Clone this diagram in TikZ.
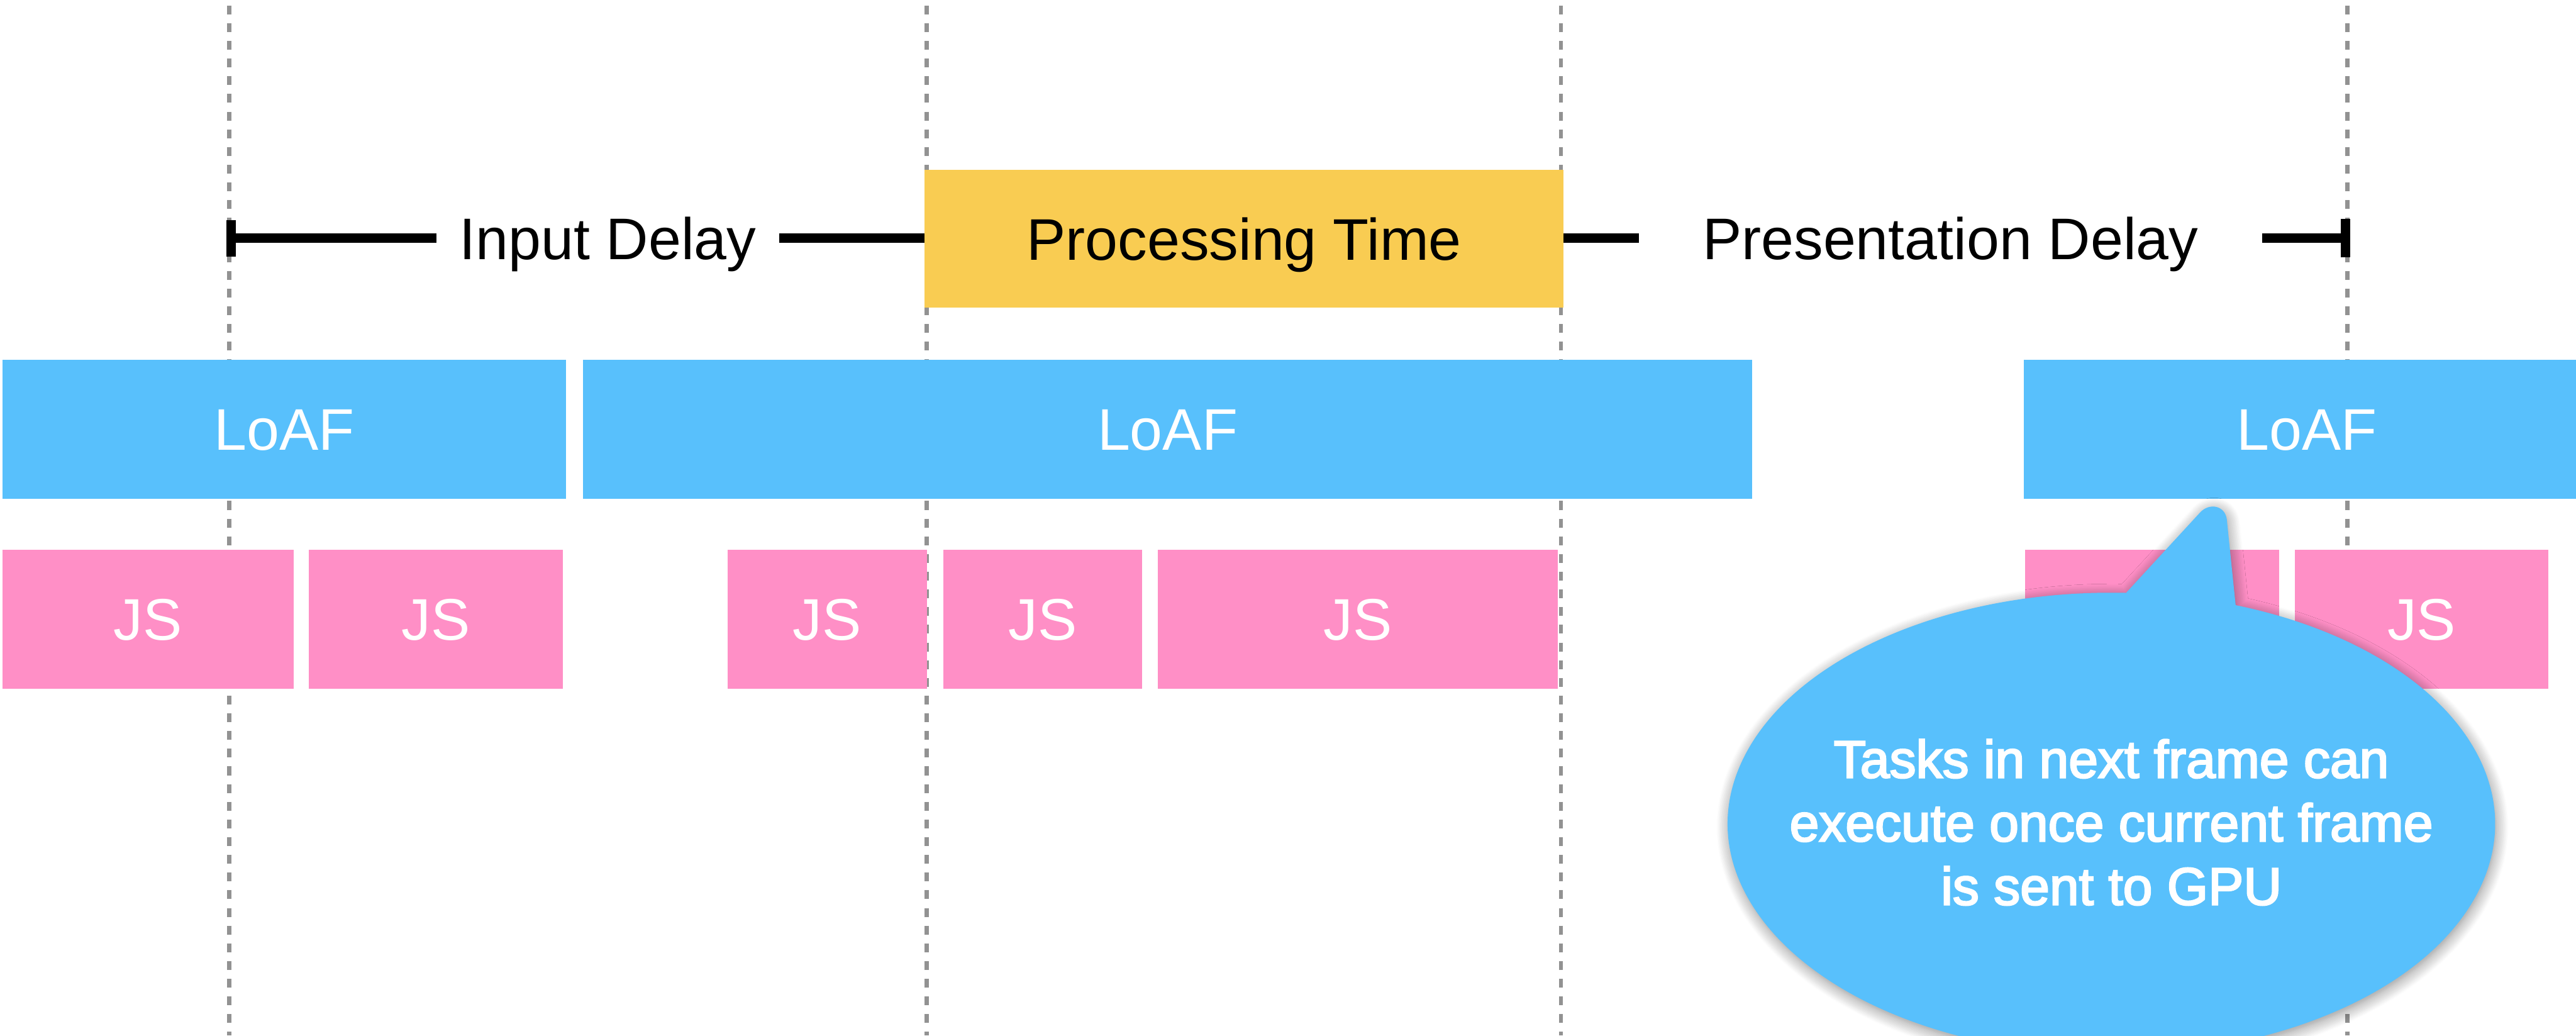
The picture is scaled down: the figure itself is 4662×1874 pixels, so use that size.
\documentclass[tikz,border=0pt]{standalone}
\usepackage{fontspec}
\setmainfont{Liberation Sans}
\newfontfamily\notefamily[FakeBold=3]{Liberation Sans}
\usetikzlibrary{shadows.blur}

\definecolor{loafblue}{RGB}{88,192,252}
\definecolor{jspink}{RGB}{255,143,198}
\definecolor{procyellow}{RGB}{249,204,82}
\definecolor{guidegrey}{RGB}{146,146,146}

\newcommand\diaglbl{\fontsize{30.2}{36}\selectfont}
\newcommand\diagnote{\notefamily\fontsize{27.2}{32.7}\selectfont}

\begin{document}
\begin{tikzpicture}[x=0.01cm,y=0.01cm,
  guide/.style={draw=guidegrey, line width=0.075cm, dash pattern=on 0.16cm off 0.16cm},
  bar/.style={inner sep=0pt, outer sep=0pt, anchor=north west, minimum height=2.51cm,
              font=\diaglbl, text height=0.76cm, text depth=0pt},
  loaf/.style={bar, fill=loafblue, text=white},
  jstask/.style={bar, fill=jspink, text=white},
  phase/.style={bar, fill=procyellow, text=black, minimum height=2.50cm},
  span/.style={draw=black, line width=0.165cm},
  spanlabel/.style={font=\diaglbl, text height=0.76cm, text depth=0pt, inner ysep=0pt, outer sep=0pt},
  note/.style={font=\diagnote, text=white, align=center, inner sep=0pt}
]
\useasboundingbox (0,0) rectangle (4662,-1874);
\clip (0,0) rectangle (4662,-1874);

% vertical time guides
\foreach \gx in {415,1677,2825,4248}
  \draw[guide] (\gx,-10) -- (\gx,-1874);

% long animation frames
\node[loaf, minimum width=10.20cm] (loaf1) at (4,-651)    {LoAF};
\node[loaf, minimum width=21.15cm] (loaf2) at (1055,-651) {LoAF};
\node[loaf, minimum width=10.24cm] (loaf3) at (3663,-651) {LoAF};

% script tasks
\node[jstask, minimum width=5.27cm] (js1) at (4,-995)    {JS};
\node[jstask, minimum width=4.59cm] (js2) at (559,-995)  {JS};
\node[jstask, minimum width=3.60cm] (js3) at (1317,-995) {JS};
\node[jstask, minimum width=3.60cm] (js4) at (1707,-995) {JS};
\node[jstask, minimum width=7.24cm] (js5) at (2095,-995) {JS};
\node[jstask, minimum width=4.60cm] (js6) at (3665,-995) {JS};
\node[jstask, minimum width=4.59cm] (js7) at (4153,-995) {JS};

% interaction phases
\node[phase, minimum width=11.56cm] (proc) at (1673,-307) {Processing Time};
\node[spanlabel, inner xsep=0.41cm] (inlbl)   at (1100,-431) {Input Delay};
\node[spanlabel, inner xsep=1.15cm] (preslbl) at (3530,-431) {Presentation Delay};
\coordinate (startL) at (418,-431);
\coordinate (endR)   at (4245,-431);

\draw[span] (startL) -- (inlbl.west);
\draw[span] (inlbl.east) -- (inlbl.east -| proc.west);
\draw[span] (preslbl.west -| proc.east) -- (preslbl.west);
\draw[span] (preslbl.east) -- (endR);
\draw[span] ([yshift=-0.33cm]startL) -- ([yshift=0.33cm]startL);
\draw[span] ([yshift=-0.35cm]endR) -- ([yshift=0.35cm]endR);

% speech bubble
\fill[loafblue, blur shadow={shadow xshift=0.02cm, shadow yshift=-0.06cm,
      shadow blur radius=0.22cm, shadow opacity=45, shadow blur steps=14}]
  (4046,-1095) arc[start angle=71.1, end angle=-272.2, x radius=6.94cm, y radius=4.18cm]
  -- (3982,-927) .. controls (3999,-909) and (4027,-915) .. (4030,-940) -- cycle;
\node[note] (gpunote) at (3821,-1488)
  {Tasks in next frame can\\execute once current frame\\is sent to GPU};
\end{tikzpicture}
\end{document}
